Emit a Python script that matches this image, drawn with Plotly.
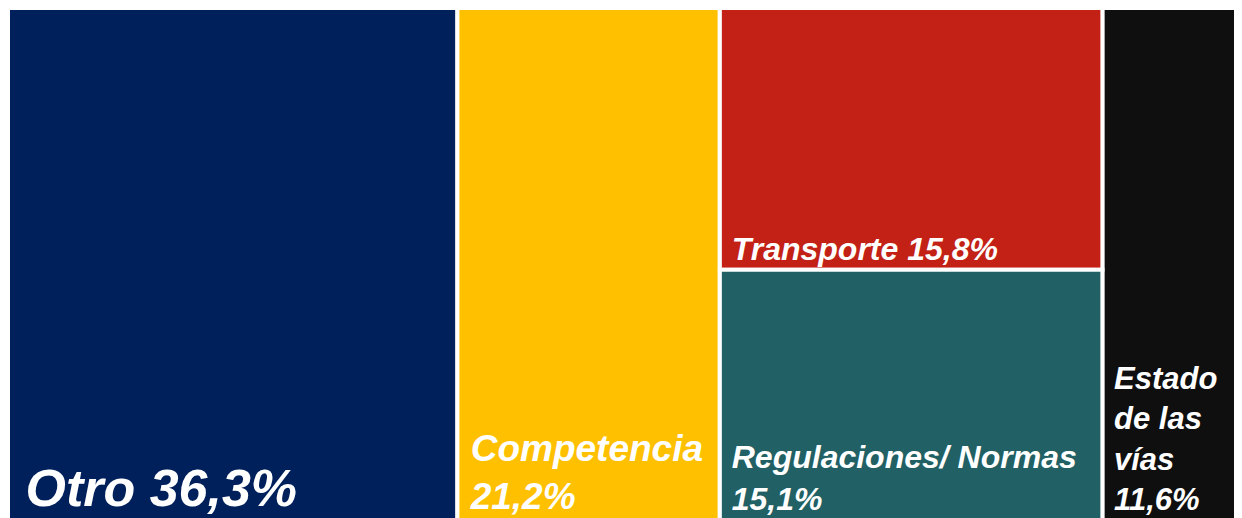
import plotly.graph_objects as go

# datos del treemap
ids = ["otro", "competencia", "grupo", "transporte", "regulaciones", "estado"]
parents = ["", "", "", "grupo", "grupo", ""]
labels = ["Otro", "Competencia", "", "Transporte", "Regulaciones/ Normas", "Estado de las vías"]
values = [36.3, 21.2, 30.9, 15.8, 15.1, 11.6]
textos = [
    "Otro 36,3%",
    "Competencia<br>21,2%",
    "",
    "Transporte 15,8%",
    "Regulaciones/ Normas<br>15,1%",
    "Estado<br>de las<br>vías<br>11,6%",
]
colores = ["#00205B", "#FFC000", "#FFFFFF", "#C32116", "#216064", "#0F0F0F"]
tamanos = [52, 37, 10, 32, 32, 31]

# un espacio duro delante de cada línea para separar el texto del borde
textos = ["<br>".join("\u00a0" + linea for linea in t.split("<br>")) if t else "" for t in textos]

fig = go.Figure(go.Treemap(
    ids=ids,
    parents=parents,
    labels=labels,
    values=values,
    text=textos,
    textinfo="text",
    branchvalues="total",
    sort=False,
    tiling=dict(packing="slice-dice", pad=0),
    marker=dict(
        colors=colores,
        line=dict(color="white", width=4),
        pad=dict(t=0, l=0, r=0, b=0),
    ),
    textposition="bottom left",
    textfont=dict(family="Liberation Sans, Arial, sans-serif", color="white",
                  size=tamanos, weight="bold", style="italic"),
    pathbar=dict(visible=False),
    hoverinfo="none",
))

fig.update_layout(
    width=1238,
    height=512,
    margin=dict(l=0, r=0, t=0, b=0),
    paper_bgcolor="white",
    plot_bgcolor="white",
    showlegend=False,
)

fig.write_html("out.html")
